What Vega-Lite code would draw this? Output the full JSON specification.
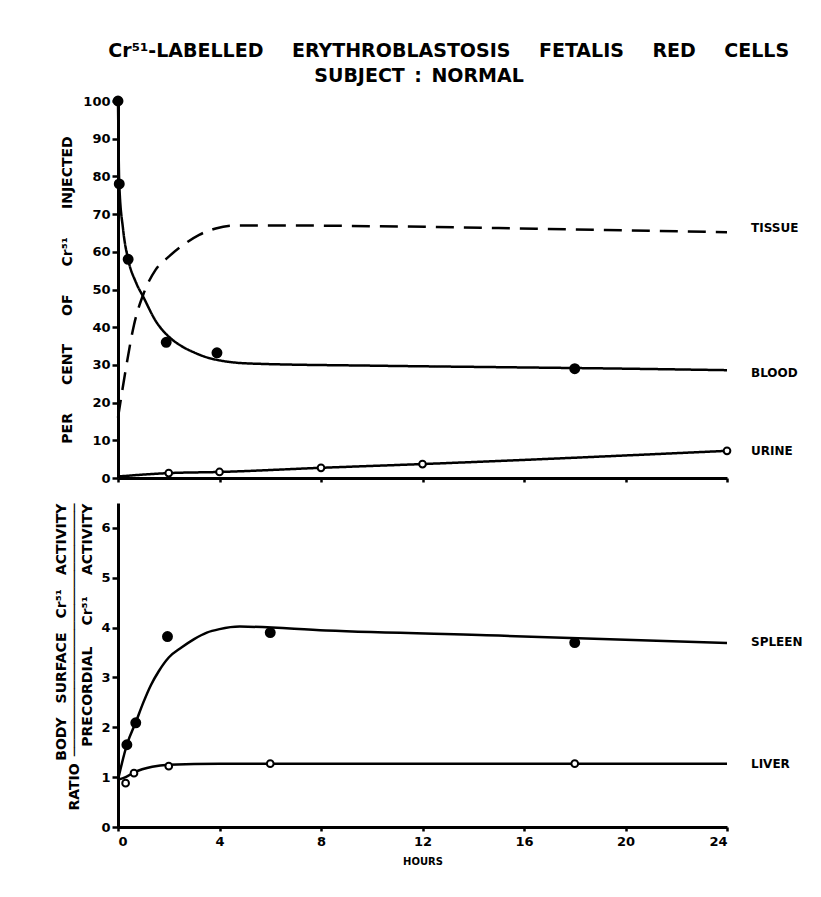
{
  "$schema": "https://vega.github.io/schema/vega-lite/v6.json",
  "background": "white",
  "padding": {"left": 54, "top": 41, "right": 5, "bottom": 5},
  "title": {
    "text": ["Cr⁵¹-LABELLED\u2003\u2002ERYTHROBLASTOSIS\u2003\u2002FETALIS\u2003\u2002RED\u2003\u2002CELLS", "SUBJECT\u2002:\u2002NORMAL\u2800\u2800\u2800\u2800"],
    "font": "DejaVu Sans", "fontWeight": "bold", "fontSize": 19, "lineHeight": 25, "color": "black", "anchor": "middle", "offset": 7, "dx": 20
  },
  "config": {
    "font": "DejaVu Sans",
    "view": {"stroke": null},
    "axis": {
      "domainColor": "black", "domainWidth": 3, "tickColor": "black", "tickWidth": 2.5, "tickSize": 6, "grid": false,
      "labelFont": "DejaVu Sans", "labelFontWeight": "bold", "labelFontSize": 13, "labelColor": "black", "labelPadding": 2, "labelOverlap": false,
      "titleFont": "DejaVu Sans", "titleFontWeight": "bold", "titleColor": "black", "titleFontSize": 14
    }
  },
  "datasets": {
    "curves": [
      {"panel": "top", "series": "blood", "x": 0, "y": 100},
      {"panel": "top", "series": "blood", "x": 0.05, "y": 78},
      {"panel": "top", "series": "blood", "x": 0.2, "y": 66},
      {"panel": "top", "series": "blood", "x": 0.4, "y": 58},
      {"panel": "top", "series": "blood", "x": 0.7, "y": 52},
      {"panel": "top", "series": "blood", "x": 1, "y": 48},
      {"panel": "top", "series": "blood", "x": 1.5, "y": 41.5},
      {"panel": "top", "series": "blood", "x": 2, "y": 37.5},
      {"panel": "top", "series": "blood", "x": 2.5, "y": 35},
      {"panel": "top", "series": "blood", "x": 3, "y": 33.3},
      {"panel": "top", "series": "blood", "x": 3.5, "y": 32},
      {"panel": "top", "series": "blood", "x": 4, "y": 31.2},
      {"panel": "top", "series": "blood", "x": 4.5, "y": 30.7},
      {"panel": "top", "series": "blood", "x": 5.5, "y": 30.3},
      {"panel": "top", "series": "blood", "x": 10, "y": 29.8},
      {"panel": "top", "series": "blood", "x": 15, "y": 29.4},
      {"panel": "top", "series": "blood", "x": 20, "y": 29},
      {"panel": "top", "series": "blood", "x": 24, "y": 28.6},
      {"panel": "top", "series": "tissue", "x": 0, "y": 16},
      {"panel": "top", "series": "tissue", "x": 0.3, "y": 28.6},
      {"panel": "top", "series": "tissue", "x": 0.63, "y": 40.6},
      {"panel": "top", "series": "tissue", "x": 1.02, "y": 49.1},
      {"panel": "top", "series": "tissue", "x": 1.48, "y": 55.2},
      {"panel": "top", "series": "tissue", "x": 2, "y": 58.7},
      {"panel": "top", "series": "tissue", "x": 2.67, "y": 62.3},
      {"panel": "top", "series": "tissue", "x": 3.2, "y": 64.5},
      {"panel": "top", "series": "tissue", "x": 3.85, "y": 66.2},
      {"panel": "top", "series": "tissue", "x": 4.6, "y": 67},
      {"panel": "top", "series": "tissue", "x": 6, "y": 67},
      {"panel": "top", "series": "tissue", "x": 10, "y": 66.8},
      {"panel": "top", "series": "tissue", "x": 15, "y": 66.3},
      {"panel": "top", "series": "tissue", "x": 20, "y": 65.7},
      {"panel": "top", "series": "tissue", "x": 24, "y": 65.2},
      {"panel": "top", "series": "urine", "x": 0, "y": 0.4},
      {"panel": "top", "series": "urine", "x": 2, "y": 1.3},
      {"panel": "top", "series": "urine", "x": 4, "y": 1.6},
      {"panel": "top", "series": "urine", "x": 8, "y": 2.7},
      {"panel": "top", "series": "urine", "x": 12, "y": 3.7},
      {"panel": "top", "series": "urine", "x": 24, "y": 7.2},
      {"panel": "bottom", "series": "spleen", "x": 0, "y": 0.95},
      {"panel": "bottom", "series": "spleen", "x": 0.35, "y": 1.65},
      {"panel": "bottom", "series": "spleen", "x": 0.7, "y": 2.1},
      {"panel": "bottom", "series": "spleen", "x": 1, "y": 2.5},
      {"panel": "bottom", "series": "spleen", "x": 1.3, "y": 2.85},
      {"panel": "bottom", "series": "spleen", "x": 1.6, "y": 3.12},
      {"panel": "bottom", "series": "spleen", "x": 2, "y": 3.4},
      {"panel": "bottom", "series": "spleen", "x": 2.5, "y": 3.6},
      {"panel": "bottom", "series": "spleen", "x": 3, "y": 3.77},
      {"panel": "bottom", "series": "spleen", "x": 3.5, "y": 3.9},
      {"panel": "bottom", "series": "spleen", "x": 4, "y": 3.97},
      {"panel": "bottom", "series": "spleen", "x": 4.8, "y": 4.02},
      {"panel": "bottom", "series": "spleen", "x": 8.2, "y": 3.94},
      {"panel": "bottom", "series": "spleen", "x": 15, "y": 3.84},
      {"panel": "bottom", "series": "spleen", "x": 24, "y": 3.69},
      {"panel": "bottom", "series": "liver", "x": 0, "y": 0.95},
      {"panel": "bottom", "series": "liver", "x": 0.3, "y": 1.0},
      {"panel": "bottom", "series": "liver", "x": 0.65, "y": 1.1},
      {"panel": "bottom", "series": "liver", "x": 1.35, "y": 1.21},
      {"panel": "bottom", "series": "liver", "x": 2, "y": 1.25},
      {"panel": "bottom", "series": "liver", "x": 4, "y": 1.27},
      {"panel": "bottom", "series": "liver", "x": 24, "y": 1.27}
    ],
    "points": [
      {"panel": "top", "series": "blood", "kind": "filled", "x": 0, "y": 100},
      {"panel": "top", "series": "blood", "kind": "filled", "x": 0.05, "y": 78},
      {"panel": "top", "series": "blood", "kind": "filled", "x": 0.4, "y": 58},
      {"panel": "top", "series": "blood", "kind": "filled", "x": 1.9, "y": 36},
      {"panel": "top", "series": "blood", "kind": "filled", "x": 3.9, "y": 33.2},
      {"panel": "top", "series": "blood", "kind": "filled", "x": 18, "y": 29},
      {"panel": "top", "series": "urine", "kind": "open", "x": 2, "y": 1.3},
      {"panel": "top", "series": "urine", "kind": "open", "x": 4, "y": 1.6},
      {"panel": "top", "series": "urine", "kind": "open", "x": 8, "y": 2.7},
      {"panel": "top", "series": "urine", "kind": "open", "x": 12, "y": 3.7},
      {"panel": "top", "series": "urine", "kind": "open", "x": 24, "y": 7.2},
      {"panel": "bottom", "series": "spleen", "kind": "filled", "x": 0.35, "y": 1.65},
      {"panel": "bottom", "series": "spleen", "kind": "filled", "x": 0.7, "y": 2.09},
      {"panel": "bottom", "series": "spleen", "kind": "filled", "x": 1.95, "y": 3.82},
      {"panel": "bottom", "series": "spleen", "kind": "filled", "x": 6, "y": 3.9},
      {"panel": "bottom", "series": "spleen", "kind": "filled", "x": 18, "y": 3.7},
      {"panel": "bottom", "series": "liver", "kind": "open", "x": 0.3, "y": 0.88},
      {"panel": "bottom", "series": "liver", "kind": "open", "x": 0.63, "y": 1.08},
      {"panel": "bottom", "series": "liver", "kind": "open", "x": 2, "y": 1.22},
      {"panel": "bottom", "series": "liver", "kind": "open", "x": 6, "y": 1.27},
      {"panel": "bottom", "series": "liver", "kind": "open", "x": 18, "y": 1.27}
    ],
    "labels": [
      {"panel": "top", "label": "TISSUE", "x": 24, "y": 66.3},
      {"panel": "top", "label": "BLOOD", "x": 24, "y": 27.9},
      {"panel": "top", "label": "URINE", "x": 24, "y": 7.2},
      {"panel": "bottom", "label": "SPLEEN", "x": 24, "y": 3.71},
      {"panel": "bottom", "label": "LIVER", "x": 24, "y": 1.27}
    ]
  },
  "spacing": 17,
  "vconcat": [
    {
      "width": 609,
      "height": 377,
      "layer": [
        {
          "data": {"name": "curves"},
          "transform": [{"filter": "datum.panel === 'top'"}],
          "mark": {"type": "line", "interpolate": "monotone", "color": "black", "strokeWidth": 2.5},
          "encoding": {
            "x": {"field": "x", "type": "quantitative", "scale": {"domain": [0, 24], "nice": false},
                  "axis": {"title": null, "labels": false, "values": [0, 4, 8, 12, 16, 20, 24], "tickCount": 30, "format": "d", "tickSize": 4}},
            "y": {"field": "y", "type": "quantitative", "scale": {"domain": [0, 100], "nice": false},
                  "axis": {"title": "PER\u2003\u2003CENT\u2003\u2003OF\u2003\u2003Cr⁵¹\u2003\u2003INJECTED", "values": [0, 10, 20, 30, 40, 50, 60, 70, 80, 90, 100], "tickCount": 30, "format": "d", "titlePadding": 8}},
            "detail": {"field": "series"},
            "strokeDash": {"field": "series", "legend": null,
                           "scale": {"domain": ["blood", "tissue", "urine"], "range": [[1, 0], [18, 10], [1, 0]]}}
          }
        },
        {
          "data": {"name": "points"},
          "transform": [{"filter": "datum.panel === 'top'"}],
          "mark": {"type": "point", "shape": "circle", "filled": true, "stroke": "black", "strokeWidth": 2, "opacity": 1},
          "encoding": {
            "x": {"field": "x", "type": "quantitative"},
            "y": {"field": "y", "type": "quantitative"},
            "fill": {"field": "kind", "legend": null, "scale": {"domain": ["filled", "open"], "range": ["black", "white"]}},
            "size": {"field": "kind", "legend": null, "scale": {"domain": ["filled", "open"], "range": [80, 45]}}
          }
        },
        {
          "data": {"name": "labels"},
          "transform": [{"filter": "datum.panel === 'top'"}],
          "mark": {"type": "text", "align": "left", "baseline": "middle", "dx": 24, "fontSize": 12, "fontWeight": "bold", "color": "black", "font": "DejaVu Sans"},
          "encoding": {
            "x": {"field": "x", "type": "quantitative"},
            "y": {"field": "y", "type": "quantitative"},
            "text": {"field": "label"}
          }
        }
      ]
    },
    {
      "width": 609,
      "height": 324,
      "layer": [
        {
          "data": {"name": "curves"},
          "transform": [{"filter": "datum.panel === 'bottom'"}],
          "mark": {"type": "line", "interpolate": "monotone", "color": "black", "strokeWidth": 2.5},
          "encoding": {
            "x": {"field": "x", "type": "quantitative", "scale": {"domain": [0, 24], "nice": false},
                  "axis": {"title": "HOURS", "titleFontSize": 10, "values": [0, 4, 8, 12, 16, 20, 24], "tickCount": 30, "format": "d", "tickSize": 4, "labelPadding": 4, "titlePadding": 8}},
            "y": {"field": "y", "type": "quantitative", "scale": {"domain": [0, 6.5], "nice": false},
                  "axis": {"title": ["BODY\u2003SURFACE\u2003Cr⁵¹\u2003ACTIVITY", "RATIO\u2002──────────────────────────────", "PRECORDIAL\u2003\u2002Cr⁵¹\u2003\u2002ACTIVITY"],
                           "values": [0, 1, 2, 3, 4, 5, 6], "tickCount": 30, "format": "d", "titleAlign": "right", "titleAnchor": "end", "titleLineHeight": 13, "titlePadding": 6}},
            "detail": {"field": "series"}
          }
        },
        {
          "data": {"name": "points"},
          "transform": [{"filter": "datum.panel === 'bottom'"}],
          "mark": {"type": "point", "shape": "circle", "filled": true, "stroke": "black", "strokeWidth": 2, "opacity": 1},
          "encoding": {
            "x": {"field": "x", "type": "quantitative"},
            "y": {"field": "y", "type": "quantitative"},
            "fill": {"field": "kind", "legend": null, "scale": {"domain": ["filled", "open"], "range": ["black", "white"]}},
            "size": {"field": "kind", "legend": null, "scale": {"domain": ["filled", "open"], "range": [80, 45]}}
          }
        },
        {
          "data": {"name": "labels"},
          "transform": [{"filter": "datum.panel === 'bottom'"}],
          "mark": {"type": "text", "align": "left", "baseline": "middle", "dx": 24, "fontSize": 12, "fontWeight": "bold", "color": "black", "font": "DejaVu Sans"},
          "encoding": {
            "x": {"field": "x", "type": "quantitative"},
            "y": {"field": "y", "type": "quantitative"},
            "text": {"field": "label"}
          }
        }
      ]
    }
  ]
}
